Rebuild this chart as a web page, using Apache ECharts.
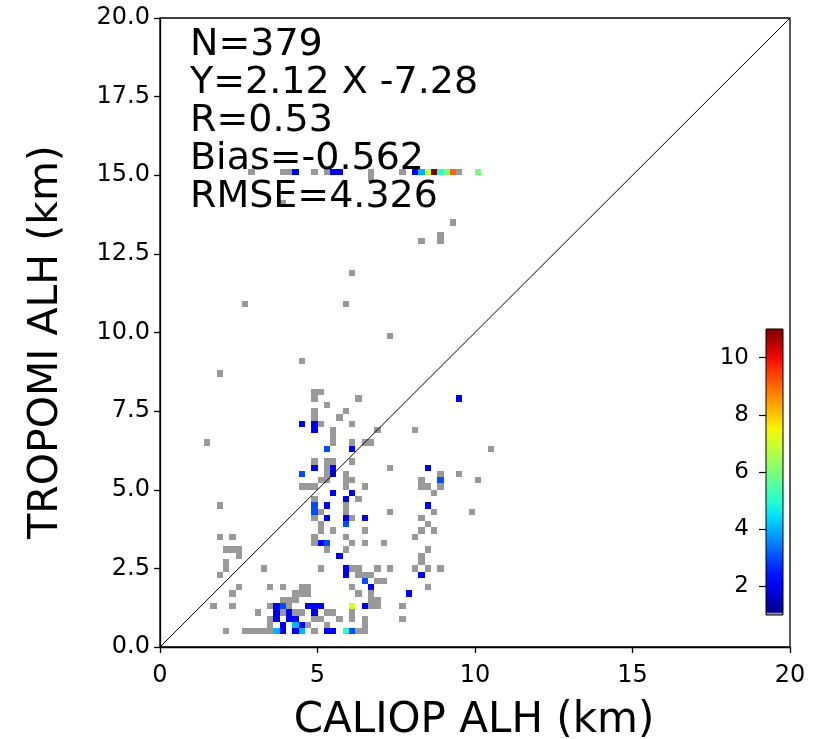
<!DOCTYPE html>
<html><head><meta charset="utf-8">
<script src="https://cdn.jsdelivr.net/npm/echarts@6/dist/echarts.min.js"></script>
<style>html,body{margin:0;padding:0;background:#fff}#c{width:830px;height:739px}</style>
</head><body><div id="c"></div>
<script>
// ---------- data ----------
const BIN = 0.2; // histogram bin width (km)
const xTickValues = [0, 5, 10, 15, 20];
const yTickValues = [0, 2.5, 5, 7.5, 10, 12.5, 15, 17.5, 20];
const cbarTickValues = [2, 4, 6, 8, 10];
const cbarRange = [1, 11];
const oneToOne = [[0, 0], [20, 20]];
const statLines = ['N=379', 'Y=2.12 X -7.28', 'R=0.53', 'Bias=-0.562', 'RMSE=4.326'];
// [CALIOP bin start, TROPOMI bin start, count]
const cellsTop = [
  [2.8,15.0,1],[3.8,15.0,1],[4.0,15.0,1],[4.2,15.0,2],[4.8,15.0,1],[5.2,15.0,1],[5.4,15.0,2],[5.6,15.0,2],
  [6.6,15.0,1],[6.6,14.8,1],[7.6,15.0,1],[8.0,15.0,2],[8.2,15.0,4],[8.4,15.0,7],[8.6,15.0,11],[8.8,15.0,5],
  [9.0,15.0,6],[9.2,15.0,9],[9.4,15.0,1],[10.0,15.0,6],
  [3.8,14.0,1],[9.2,13.4,1],[8.8,13.0,1],[8.8,12.8,1],[8.2,12.8,1],[6.0,11.8,1],[2.6,10.8,1],[5.8,10.8,1],
  [7.2,9.8,1],[4.4,9.0,1],[1.8,8.6,1]
];
const cellsMid = [
  [4.8,8.0,1],[5.0,8.0,1],[4.8,7.8,1],[6.2,7.8,1],[5.2,7.6,1],[5.8,7.4,1],[5.6,7.2,1],[4.8,7.4,1],[4.8,7.2,1],
  [4.8,7.0,2],[4.8,6.8,2],[5.0,7.0,1],[4.4,7.0,2],[6.0,7.0,1],[5.4,6.8,1],[5.4,6.6,1],[5.4,6.4,1],[6.8,6.8,1],
  [8.0,6.8,1],[6.4,6.4,1],[6.6,6.4,1],[6.0,6.4,1],[6.0,6.2,2],[5.2,6.2,3],[1.4,6.4,1],[9.4,7.8,2],[10.4,6.2,1]
];
const cellsLow = [
  [4.8,5.8,1],[5.2,5.8,1],[5.4,5.8,1],[6.0,5.8,1],
  [4.8,5.6,2],[5.2,5.6,1],[5.4,5.6,2],[7.2,5.6,1],[8.4,5.6,2],
  [4.4,5.4,3],[5.2,5.4,1],[5.4,5.4,2],[5.8,5.4,1],[8.8,5.4,1],[9.4,5.4,1],
  [5.0,5.2,1],[5.2,5.2,1],[5.8,5.2,1],[6.0,5.2,1],[8.2,5.2,1],[8.8,5.2,3],[10.0,5.2,1],
  [4.4,5.0,1],[4.6,5.0,1],[4.8,5.0,1],[5.8,5.0,1],[6.4,5.0,1],[8.2,5.0,1],[8.4,5.0,1],[8.8,5.0,1],
  [5.4,4.8,2],[6.0,4.8,2],[8.6,4.8,1],
  [4.8,4.6,1],[5.8,4.6,2],[6.2,4.6,1],
  [1.8,4.4,1],[4.8,4.4,3],[5.2,4.4,2],[5.8,4.4,1],[8.4,4.4,2],
  [4.8,4.2,3],[5.0,4.2,1],[5.8,4.2,1],[7.2,4.2,1],[8.6,4.2,1],[9.8,4.2,1],
  [4.8,4.0,1],[5.2,4.0,2],[5.8,4.0,2],[6.0,4.0,1],[6.4,4.0,2],[8.2,4.0,1],
  [5.0,3.8,1],[5.8,3.8,3],[8.4,3.8,1],
  [5.0,3.6,1],[5.4,3.6,1],[6.4,3.6,1],[8.2,3.6,1],[8.6,3.6,1],
  [1.8,3.4,1],[2.2,3.4,1],[4.8,3.4,1],[5.8,3.4,1],[8.0,3.4,1],
  [4.8,3.2,1],[5.0,3.2,2],[5.2,3.2,3],[6.0,3.2,1],[6.4,3.2,1],[7.0,3.2,1],
  [2.0,3.0,1],[2.2,3.0,1],[2.4,3.0,1],[5.2,3.0,1],[5.8,3.0,1],[8.4,3.0,1],
  [2.4,2.8,1],[5.6,2.8,2],[8.2,2.8,1],
  [2.0,2.6,1],[8.2,2.6,1],
  [2.0,2.4,1],[3.2,2.4,1],[5.0,2.4,1],[5.8,2.4,2],[6.0,2.4,1],[6.2,2.4,1],[6.8,2.4,1],[7.2,2.4,1],[8.0,2.4,1],[8.4,2.4,1],[8.8,2.4,1],
  [1.8,2.2,1],[5.8,2.2,2],[6.2,2.2,1],[6.4,2.2,1],[6.6,2.2,1],[8.2,2.2,2],
  [6.4,2.0,3],[6.8,2.0,1],[7.0,2.0,1],
  [2.4,1.8,1],[3.4,1.8,1],[3.8,1.8,1],[4.4,1.8,1],[4.6,1.8,1],[6.0,1.8,1],[6.6,1.8,2],[8.4,1.8,1],
  [2.2,1.6,1],[4.2,1.6,1],[4.4,1.6,1],[4.6,1.6,1],[6.2,1.6,1],[6.6,1.6,1],[7.8,1.6,2],
  [3.8,1.4,1],[4.0,1.4,1],[4.2,1.4,1],[6.6,1.4,1],[6.8,1.4,1],
  [1.6,1.2,1],[2.2,1.2,1],[3.4,1.2,1],[3.6,1.2,2],[3.8,1.2,3],[4.0,1.2,1],[4.6,1.2,2],[4.8,1.2,2],[5.0,1.2,2],[6.0,1.2,7],[6.4,1.2,2],[6.6,1.2,1],[6.8,1.2,1],[7.6,1.2,1],
  [3.0,1.0,1],[3.6,1.0,2],[3.8,1.0,1],[4.0,1.0,2],[4.2,1.0,1],[4.4,1.0,1],[4.8,1.0,2],[5.2,1.0,1],[5.4,1.0,1],[6.0,1.0,1],
  [3.4,0.8,1],[3.6,0.8,2],[4.0,0.8,2],[4.2,0.8,2],[4.8,0.8,1],[5.0,0.8,1],[5.6,0.8,1],[6.0,0.8,1],[6.4,0.8,1],[7.6,0.8,1],
  [3.4,0.6,1],[3.8,0.6,2],[4.2,0.6,4],[4.4,0.6,2],[4.6,0.6,1],[5.2,0.6,1],[6.4,0.6,1],
  [2.0,0.4,1],[2.6,0.4,1],[2.8,0.4,1],[3.0,0.4,1],[3.2,0.4,1],[3.4,0.4,1],[3.6,0.4,4],[3.8,0.4,2],[4.2,0.4,2],[4.4,0.4,4],[4.8,0.4,1],[5.2,0.4,2],[5.4,0.4,2],[5.8,0.4,5],[6.0,0.4,3],[6.2,0.4,1],[6.4,0.4,1]
];

// ---------- colours ----------
const FONT = 'DejaVu Sans';
const GRAY = '#999999';
const JET = {
  r: [[0,0],[0.35,0],[0.66,1],[0.89,1],[1,0.5]],
  g: [[0,0],[0.125,0],[0.375,1],[0.64,1],[0.91,0],[1,0]],
  b: [[0,0.5],[0.11,1],[0.34,1],[0.65,0],[1,0]]
};
function seg(s, t) {
  for (let k = 1; k < s.length; k++) {
    if (t <= s[k][0]) {
      const a = s[k-1], b = s[k];
      return a[1] + (b[1]-a[1]) * (t-a[0]) / (b[0]-a[0]);
    }
  }
  return s[s.length-1][1];
}
function jet(t) {
  t = Math.max(0, Math.min(1, t));
  return 'rgb(' + Math.round(255*seg(JET.r,t)) + ',' + Math.round(255*seg(JET.g,t)) + ',' + Math.round(255*seg(JET.b,t)) + ')';
}
function countColor(n) {
  if (n <= 1) return GRAY;
  return jet((n - cbarRange[0]) / (cbarRange[1] - cbarRange[0]));
}

const allCells = cellsTop.concat(cellsMid, cellsLow);

function renderCell(params, api) {
  const x = api.value(0), y = api.value(1), n = api.value(2);
  const p0 = api.coord([x, y]);
  const p1 = api.coord([x + BIN, y + BIN]);
  const x0 = Math.round(p0[0]), x1 = Math.round(p1[0]);
  const y0 = Math.round(p0[1]), y1 = Math.round(p1[1]);
  return { type: 'rect', shape: { x: x0, y: y1, width: x1 - x0, height: y0 - y1 },
           style: { fill: countColor(n) } };
}

function renderCbar(params, api) {
  const lo = api.value(0), hi = api.value(1);
  const pTop = api.coord([0, hi]);
  const pBot = api.coord([1, lo]);
  const pGray = api.coord([1, lo + 0.08]);
  const stops = [];
  for (let k = 0; k <= 20; k++) {
    const t = k / 20;
    stops.push({ offset: t, color: jet(1 - t) });
  }
  return { type: 'group', children: [
    { type: 'rect', shape: { x: pTop[0], y: pTop[1], width: pBot[0]-pTop[0], height: pBot[1]-pTop[1] },
      style: { fill: new echarts.graphic.LinearGradient(0, 0, 0, 1, stops) } },
    { type: 'rect', shape: { x: pTop[0], y: pGray[1], width: pBot[0]-pTop[0], height: pBot[1]-pGray[1] },
      style: { fill: GRAY } },
    { type: 'rect', shape: { x: pTop[0], y: pTop[1], width: pBot[0]-pTop[0], height: pBot[1]-pTop[1] },
      style: { fill: 'none', stroke: '#000', lineWidth: 1 } }
  ]};
}

const chart = echarts.init(document.getElementById('c'), null, { renderer: 'canvas' });

const statGraphics = statLines.map((s, k) => ({
  type: 'text', x: 190, y: 45 + k * 38.1,
  style: { text: s, x: 0, y: 0, font: '38px "' + FONT + '"', fill: '#000',
           align: 'left', verticalAlign: 'middle', textAlign: 'left', textVerticalAlign: 'middle' },
  z: 100
}));

const option = {
  animation: false,
  backgroundColor: '#fff',
  grid: [
    { left: 160, top: 18, width: 630, height: 629, show: true, borderColor: '#000', borderWidth: 1.3, backgroundColor: 'transparent' },
    { left: 766, top: 329, width: 17, height: 286, show: false }
  ],
  xAxis: [
    { type: 'value', gridIndex: 0, min: 0, max: 20, interval: 5,
      axisLine: { show: true, lineStyle: { color: '#000', width: 1.3 } },
      axisTick: { show: true, inside: false, length: 6, lineStyle: { color: '#000', width: 1.3 }, customValues: xTickValues },
      axisLabel: { show: true, margin: 17, color: '#000', fontSize: 24, fontFamily: FONT, customValues: xTickValues,
                   formatter: v => String(v) },
      splitLine: { show: false } },
    { type: 'value', gridIndex: 1, min: 0, max: 1, show: false }
  ],
  yAxis: [
    { type: 'value', gridIndex: 0, min: 0, max: 20, interval: 2.5,
      axisLine: { show: true, lineStyle: { color: '#000', width: 1.3 } },
      axisTick: { show: true, inside: false, length: 6, lineStyle: { color: '#000', width: 1.3 }, customValues: yTickValues },
      axisLabel: { show: true, margin: 10, color: '#000', fontSize: 24, fontFamily: FONT, customValues: yTickValues,
                   formatter: v => Number(v).toFixed(1) },
      splitLine: { show: false } },
    { type: 'value', gridIndex: 1, min: cbarRange[0], max: cbarRange[1], position: 'left',
      axisLine: { show: false },
      axisTick: { show: true, inside: false, length: 7, lineStyle: { color: '#000', width: 1.2 }, customValues: cbarTickValues },
      axisLabel: { show: true, margin: 17, color: '#000', fontSize: 23, fontFamily: FONT, customValues: cbarTickValues },
      splitLine: { show: false } }
  ],
  series: [
    { type: 'custom', xAxisIndex: 0, yAxisIndex: 0, renderItem: renderCell, data: allCells, silent: true, z: 2 },
    { type: 'line', xAxisIndex: 0, yAxisIndex: 0, data: oneToOne, symbol: 'none', silent: true, z: 3,
      lineStyle: { color: '#000', width: 1 } },
    { type: 'custom', xAxisIndex: 1, yAxisIndex: 1, renderItem: renderCbar, data: [cbarRange], silent: true, z: 2 }
  ],
  graphic: statGraphics.concat([
    { type: 'text', x: 474, y: 721,
      style: { text: 'CALIOP ALH (km)', x: 0, y: 0, font: '42px "' + FONT + '"', fill: '#000',
               align: 'center', verticalAlign: 'middle', textAlign: 'center', textVerticalAlign: 'middle' } },
    { type: 'text', x: 46, y: 342, rotation: Math.PI / 2,
      style: { text: 'TROPOMI ALH (km)', x: 0, y: 0, font: '41px "' + FONT + '"', fill: '#000',
               align: 'center', verticalAlign: 'middle', textAlign: 'center', textVerticalAlign: 'middle' } }
  ])
};
chart.setOption(option);
</script>
</body></html>
